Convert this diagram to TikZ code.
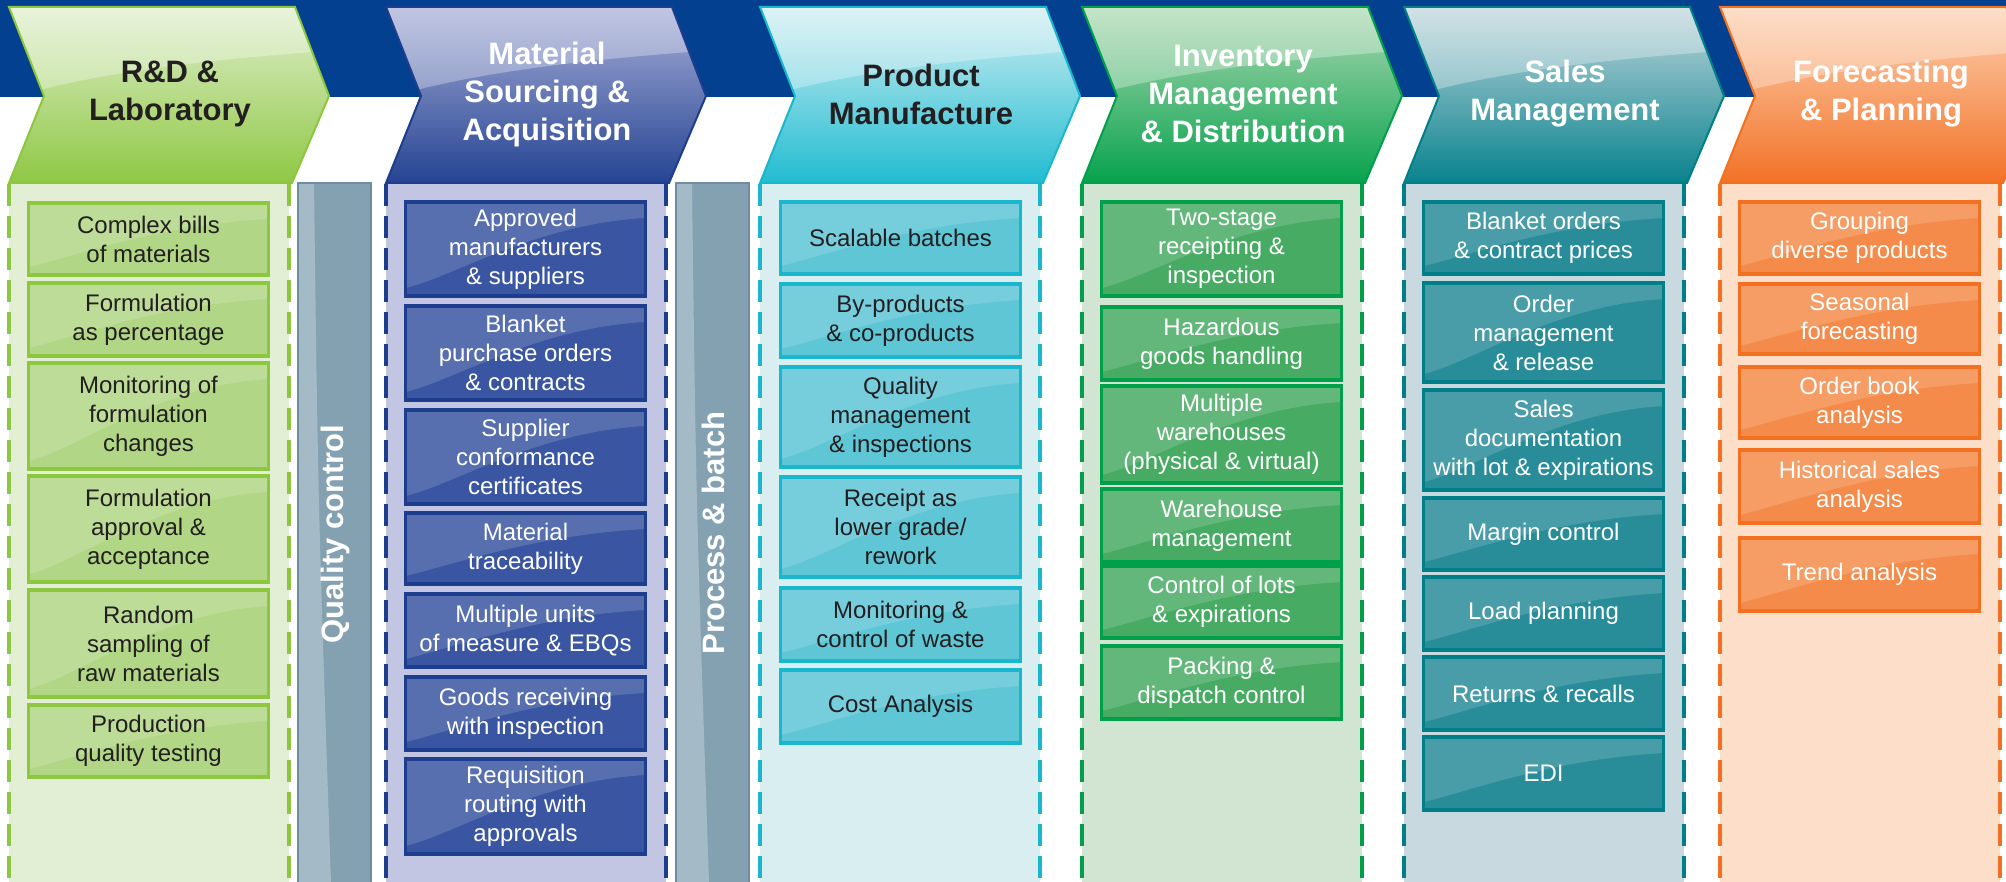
\documentclass[tikz,border=0pt]{standalone}
\usepackage{fontspec}
\setmainfont{Liberation Sans}
\definecolor{band}{HTML}{03408F}
\definecolor{darktext}{HTML}{231F20}
% column 1 green
\definecolor{c1top}{HTML}{E2F0D0}\definecolor{c1bot}{HTML}{8CC63F}\definecolor{c1line}{HTML}{8DC63F}
\definecolor{c1body}{HTML}{E3EFD4}\definecolor{c1box}{HTML}{B1D786}
% column 2 blue
\definecolor{c2top}{HTML}{ACB2DA}\definecolor{c2bot}{HTML}{1F3F8F}\definecolor{c2line}{HTML}{1D3D8D}
\definecolor{c2body}{HTML}{C3C6E2}\definecolor{c2box}{HTML}{3A55A1}
% column 3 cyan
\definecolor{c3top}{HTML}{D6F0F4}\definecolor{c3bot}{HTML}{1ABACF}\definecolor{c3line}{HTML}{19B7CD}
\definecolor{c3body}{HTML}{D8EEF1}\definecolor{c3box}{HTML}{5FC6D6}
% column 4 green
\definecolor{c4top}{HTML}{B3DAB5}\definecolor{c4bot}{HTML}{00A04A}\definecolor{c4line}{HTML}{00A04B}
\definecolor{c4body}{HTML}{D1E5D2}\definecolor{c4box}{HTML}{48AB64}
% column 5 teal
\definecolor{c5top}{HTML}{C7D9DF}\definecolor{c5bot}{HTML}{007F8A}\definecolor{c5line}{HTML}{007F89}
\definecolor{c5body}{HTML}{C8DADF}\definecolor{c5box}{HTML}{288D99}
% column 6 orange
\definecolor{c6top}{HTML}{FDD4B6}\definecolor{c6bot}{HTML}{F26E21}\definecolor{c6line}{HTML}{F37021}
\definecolor{c6body}{HTML}{FDDEC9}\definecolor{c6box}{HTML}{F58B4B}
% bars
\definecolor{barc}{HTML}{84A1B2}\definecolor{barlight}{HTML}{A4BAC7}\definecolor{barline}{HTML}{6D8DA1}

\tikzset{
  dashline/.style={line width=1.6pt, dash pattern=on 11pt off 5pt},
  headtext/.style={font=\fontsize{15.5}{19}\selectfont\bfseries, align=center, inner sep=0pt},
  bartext/.style={font=\fontsize{15.5}{19}\selectfont\bfseries, text=white, rotate=90, inner sep=0pt},
  gloss/.style={path picture={
    \fill[white,opacity=0.15] (path picture bounding box.north west) -- (path picture bounding box.north east)
      -- ([yshift=-8pt]path picture bounding box.north east)
      .. controls ([xshift=-55pt,yshift=-11pt]path picture bounding box.north east)
      and ([xshift=25pt,yshift=10pt]path picture bounding box.south west)
      .. ([yshift=4pt]path picture bounding box.south west) -- cycle;}},
  itembase/.style={rectangle, gloss, line width=1.8pt, minimum width=120pt, inner sep=0pt,
    align=center, font=\fontsize{12}{14.5}\selectfont},
  b1/.style={itembase, fill=c1box, draw=c1line, text=darktext},
  b2/.style={itembase, fill=c2box, draw=c2line, text=white},
  b3/.style={itembase, fill=c3box, draw=c3line, text=darktext},
  b4/.style={itembase, fill=c4box, draw=c4line, text=white},
  b5/.style={itembase, fill=c5box, draw=c5line, text=white},
  b6/.style={itembase, fill=c6box, draw=c6line, text=white},
}

% #1 x0, #2 colour prefix, #3 header text, #4 text colour, #5 node name
\newcommand\procol[5]{%
  \fill[#2body] (#1,183) rectangle ({#1+280},882);
  \draw[#2line, dashline] (#1,184) -- (#1,882);
  \draw[#2line, dashline] ({#1+280},184) -- ({#1+280},882);
  \begin{scope}
    \clip (#1,7) -- ({#1+286},7) -- ({#1+320},96) -- ({#1+283},183) -- (#1,183) -- ({#1+35},96) -- cycle;
    \shade[top color=#2top, bottom color=#2bot] ({#1-5},0) rectangle ({#1+330},190);
    \fill[white,opacity=.3] ({#1-5},0) -- ({#1+330},0) -- ({#1+330},50)
      .. controls ({#1+220},58) and ({#1+90},70) .. ({#1-5},100) -- cycle;
  \end{scope}
  \draw[#2line, line width=1pt, line join=miter] (#1,7) -- ({#1+286},7) -- ({#1+320},96) -- ({#1+283},183) -- (#1,183) -- ({#1+35},96) -- cycle;
  \node[headtext, text=#4] (#5) at ({#1+161},94) {#3};
}
% #1 name, #2 style, #3 x0, #4 top, #5 bottom, #6 text
\newcommand\itembox[6]{%
  \node[#2, minimum height={(#5-#4)*0.5pt}] (#1) at ({#3+139.5},{(#4+#5)/2}) {#6};
}
% #1 x left, #2 node name, #3 text, #4 text centre y
\newcommand\sidebar[4]{%
  \fill[barc] (#1,183) rectangle ({#1+73},882);
  \fill[barlight] ({#1+1},183) -- ({#1+16},183) .. controls ({#1+20},500) .. ({#1+33},882) -- ({#1+1},882) -- cycle;
  \draw[barline, line width=1pt] (#1,882) -- (#1,183) -- ({#1+73},183) -- ({#1+73},882);
  \node[bartext] (#2) at ({#1+37},#4) {#3};
}

\begin{document}
\begin{tikzpicture}[x=0.5pt,y=-0.5pt]
\useasboundingbox (0,0) rectangle (2006,882);
\clip (0,0) rectangle (2006,882);
\fill[white] (0,0) rectangle (2006,882);
\fill[band] (0,0) rectangle (2006,97);

\procol{9}{c1}{R\&D \&\\Laboratory}{darktext}{h1}
\procol{386}{c2}{Material\\Sourcing \&\\Acquisition}{white}{h2}
\procol{760}{c3}{Product\\Manufacture}{darktext}{h3}
\procol{1082}{c4}{Inventory\\Management\\\& Distribution}{white}{h4}
\procol{1404}{c5}{Sales\\Management}{white}{h5}
\procol{1720}{c6}{Forecasting\\\& Planning}{white}{h6}

\sidebar{298}{qc}{Quality control}{534}
\sidebar{676}{pb}{Process \& batch}{533}

% column 1
\itembox{r1}{b1}{9}{203}{275}{Complex bills\\of materials}
\itembox{r2}{b1}{9}{283}{356}{Formulation\\as percentage}
\itembox{r3}{b1}{9}{363}{469}{Monitoring of\\formulation\\changes}
\itembox{r4}{b1}{9}{476}{582}{Formulation\\approval \&\\acceptance}
\itembox{r5}{b1}{9}{590}{697}{Random\\sampling of\\raw materials}
\itembox{r6}{b1}{9}{705}{777}{Production\\quality testing}
% column 2
\itembox{m1}{b2}{386}{202}{296}{Approved\\manufacturers\\\& suppliers}
\itembox{m2}{b2}{386}{306}{400}{Blanket\\purchase orders\\\& contracts}
\itembox{m3}{b2}{386}{410}{504}{Supplier\\conformance\\certificates}
\itembox{m4}{b2}{386}{513}{584}{Material\\traceability}
\itembox{m5}{b2}{386}{594}{667}{Multiple units\\of measure \& EBQs}
\itembox{m6}{b2}{386}{677}{750}{Goods receiving\\with inspection}
\itembox{m7}{b2}{386}{759}{854}{Requisition\\routing with\\approvals}
% column 3
\itembox{p1}{b3}{761}{202}{274}{Scalable batches}
\itembox{p2}{b3}{761}{284}{357}{By-products\\\& co-products}
\itembox{p3}{b3}{761}{367}{467}{Quality\\management\\\& inspections}
\itembox{p4}{b3}{761}{477}{577}{Receipt as\\lower grade/\\rework}
\itembox{p5}{b3}{761}{588}{661}{Monitoring \&\\control of waste}
\itembox{p6}{b3}{761}{670}{743}{Cost Analysis}
% column 4
\itembox{i1}{b4}{1082}{202}{296}{Two-stage\\receipting \&\\inspection}
\itembox{i2}{b4}{1082}{307}{380}{Hazardous\\goods handling}
\itembox{i3}{b4}{1082}{386}{483}{Multiple\\warehouses\\(physical \& virtual)}
\itembox{i4}{b4}{1082}{489}{562}{Warehouse\\management}
\itembox{i5}{b4}{1082}{566}{638}{Control of lots\\\& expirations}
\itembox{i6}{b4}{1082}{646}{719}{Packing \&\\dispatch control}
% column 5
\itembox{s1}{b5}{1404}{202}{274}{Blanket orders\\\& contract prices}
\itembox{s2}{b5}{1404}{283}{382}{Order\\management\\\& release}
\itembox{s3}{b5}{1404}{390}{490}{Sales\\documentation\\with lot \& expirations}
\itembox{s4}{b5}{1404}{498}{570}{Margin control}
\itembox{s5}{b5}{1404}{577}{650}{Load planning}
\itembox{s6}{b5}{1404}{657}{730}{Returns \& recalls}
\itembox{s7}{b5}{1404}{737}{810}{EDI}
% column 6
\itembox{f1}{b6}{1720}{202}{274}{Grouping\\diverse products}
\itembox{f2}{b6}{1720}{284}{354}{Seasonal\\forecasting}
\itembox{f3}{b6}{1720}{367}{438}{Order book\\analysis}
\itembox{f4}{b6}{1720}{450}{523}{Historical sales\\analysis}
\itembox{f5}{b6}{1720}{538}{611}{Trend analysis}
\end{tikzpicture}
\end{document}
